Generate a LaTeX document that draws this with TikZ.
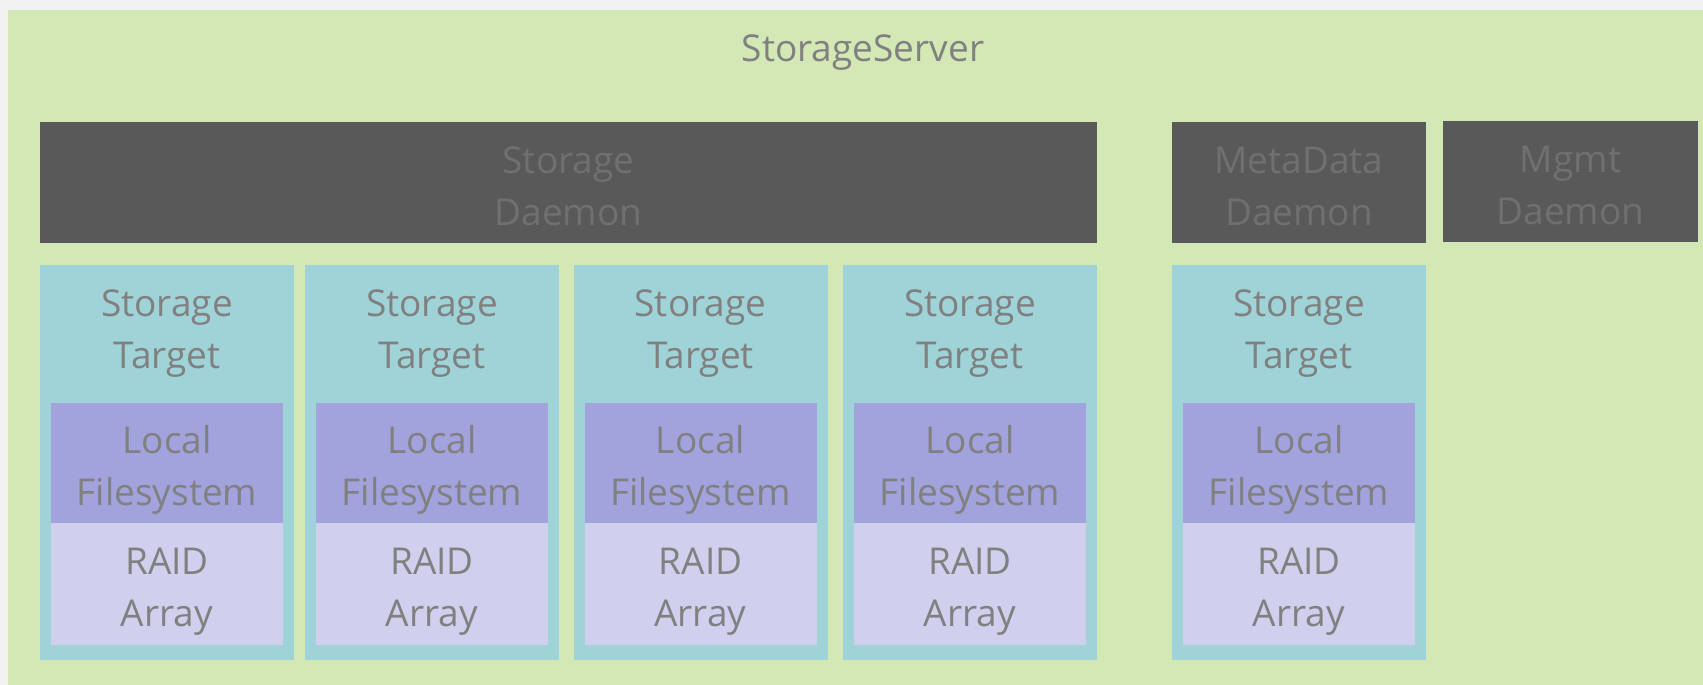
\documentclass[tikz,border=0pt]{standalone}
\usepackage{fontspec}
\setmainfont{Open Sans}
\definecolor{outerbg}{RGB}{242,242,242}
\definecolor{srvgreen}{RGB}{211,232,181}
\definecolor{daemondark}{RGB}{89,89,89}
\definecolor{daemontext}{RGB}{112,112,112}
\definecolor{tgtteal}{RGB}{159,211,215}
\definecolor{fspurple}{RGB}{162,162,221}
\definecolor{raidlilac}{RGB}{208,208,238}
\definecolor{labelgray}{RGB}{128,128,128}
\tikzset{
  txt/.style={font=\fontsize{37}{52}\selectfont, align=center, inner sep=0pt, text=labelgray},
  daemonbox/.style={fill=daemondark, minimum height=121pt, inner sep=0pt},
  targetbox/.style={fill=tgtteal, minimum width=254pt, minimum height=395pt, inner sep=0pt},
  fsbox/.style={fill=fspurple, minimum width=232pt, minimum height=120pt, inner sep=0pt},
  raidbox/.style={fill=raidlilac, minimum width=232pt, minimum height=122pt, inner sep=0pt}
}
\begin{document}
\begin{tikzpicture}[x=1pt,y=-1pt]
\useasboundingbox (0,0) rectangle (1703,685);
\fill[outerbg] (0,0) rectangle (1703,685);
\fill[srvgreen] (8,10) rectangle (1703,685);
\node[txt] (title) at (863,53) {StorageServer};
\node[daemonbox, minimum width=1057pt] (sd) at (568.5,182.5) {};
\node[txt, text=daemontext] (sdl) at (568.5,186.5) {Storage\\Daemon};
\node[daemonbox, minimum width=254pt] (md) at (1299,182.5) {};
\node[txt, text=daemontext] (mdl) at (1299,186.5) {MetaData\\Daemon};
\node[daemonbox, minimum width=255pt] (mg) at (1570.5,181.5) {};
\node[txt, text=daemontext] (mgl) at (1570.5,185.5) {Mgmt\\Daemon};
\foreach \i/\cx in {1/167, 2/432, 3/700.5, 4/970, 5/1299} {
  \node[targetbox] (t\i) at (\cx,462.5) {};
  \node[txt] (tl\i) at (\cx,334) {Storage\\Target};
  \node[fsbox] (fs\i) at (\cx,463) {};
  \node[txt] (fsl\i) at (\cx,470) {Local\\Filesystem};
  \node[raidbox] (r\i) at (\cx,584) {};
  \node[txt] (rl\i) at (\cx,592) {RAID\\Array};
}
\end{tikzpicture}
\end{document}
